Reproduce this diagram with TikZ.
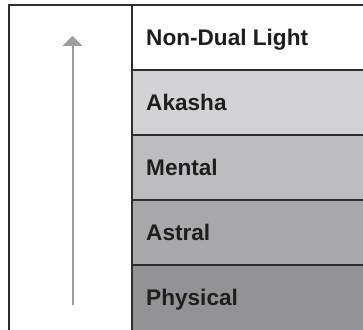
\documentclass[tikz,border=0pt]{standalone}
\usepackage{fontspec}
\setmainfont{Liberation Sans}
\usetikzlibrary{arrows.meta}
\definecolor{bandA}{HTML}{FFFFFF}
\definecolor{bandB}{HTML}{D3D3D5}
\definecolor{bandC}{HTML}{BDBDC0}
\definecolor{bandD}{HTML}{A8A8AB}
\definecolor{bandE}{HTML}{939396}
\definecolor{framec}{HTML}{2E2E2E}
\definecolor{arrowc}{HTML}{9E9EA0}
\definecolor{txtc}{HTML}{1E1E1E}
\tikzset{
  band/.style={draw=none, minimum width=231pt, minimum height=65pt, anchor=north west, inner sep=0pt, outer sep=0pt},
  lbl/.style={anchor=west, inner sep=0pt, text height=16.5pt, text depth=0pt, font=\fontsize{22.6pt}{26pt}\selectfont\bfseries, text=txtc},
  sep/.style={draw=framec, line width=1.6pt},
  frame/.style={draw=framec, line width=2pt},
}
\begin{document}
\begin{tikzpicture}[x=1pt,y=1pt]
\useasboundingbox (0,0) rectangle (363,329);
% bands (y measured from top: 5,70,135,200,265)
\node[band, fill=bandA] (b1) at (132,324) {};
\node[band, fill=bandB] (b2) at (132,259) {};
\node[band, fill=bandC] (b3) at (132,194) {};
\node[band, fill=bandD] (b4) at (132,129) {};
\node[band, fill=bandE, minimum height=70pt] (b5) at (132,64) {};
% separators
\draw[sep] (b1.south west) -- (b1.south east);
\draw[sep] (b2.south west) -- (b2.south east);
\draw[sep] (b3.south west) -- (b3.south east);
\draw[sep] (b4.south west) -- (b4.south east);
% frame
\coordinate (tl) at (9,324);
\coordinate (bl) at (9,-2);
\coordinate (tr) at (365,324);
\coordinate (dt) at (132,324);
\coordinate (db) at (132,-2);
\draw[frame] (bl) -- (tl) -- (tr);
\draw[frame] (dt) -- (db);
% labels
\node[lbl] (l1) at (146,291.5) {Non-Dual Light};
\node[lbl] (l2) at (146,226.5) {Akasha};
\node[lbl] (l3) at (146,161.5) {Mental};
\node[lbl] (l4) at (146,96.5) {Astral};
\node[lbl] (l5) at (146,31.5) {Physical};
% arrow
\coordinate (as) at (72.5,24);
\coordinate (ae) at (72.5,293);
\draw[draw=arrowc, fill=arrowc, line width=2pt, -{Triangle[width=20pt,length=10pt]}] (as) -- (ae);
\end{tikzpicture}
\end{document}
